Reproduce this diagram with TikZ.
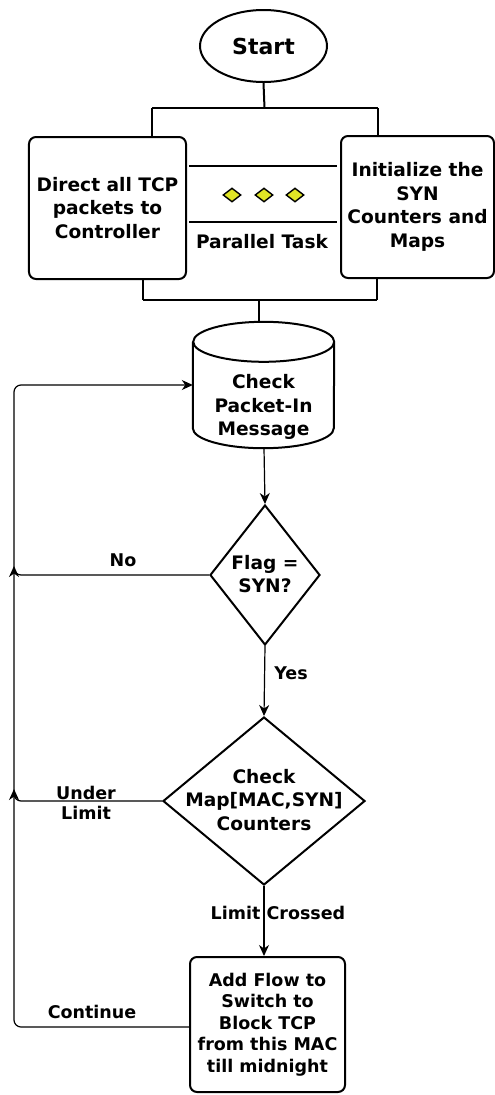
\documentclass[tikz,border=0pt]{standalone}
\usepackage{fontspec}
\setmainfont{DejaVu Sans}
\usetikzlibrary{shapes.geometric,arrows.meta}
\definecolor{ydot}{rgb}{0.88,0.9,0.15}
\begin{document}
\begin{tikzpicture}[x=1bp,y=-1bp,
  font=\bfseries\fontsize{17.5bp}{23.5bp}\selectfont,
  big/.style={font=\bfseries\fontsize{18.6bp}{23.5bp}\selectfont},
  box/.style={draw,line width=2bp,rounded corners=7bp,align=center,inner sep=0pt},
  dec/.style={draw,diamond,line width=2bp,align=center,inner sep=0pt,aspect=1},
  txt/.style={align=center,inner sep=0pt},
  bar/.style={line width=2bp},
  arr/.style={line width=1.2bp,-{Stealth[length=11bp,width=10bp,inset=3.5bp]}},
  ydia/.style={draw,diamond,fill=ydot,line width=1.4bp,minimum width=18bp,minimum height=14bp,inner sep=0pt}
]
\useasboundingbox (0,0) rectangle (495,1095);

% start
\node[draw,ellipse,line width=2bp,minimum width=127bp,minimum height=72bp,inner sep=0pt,font=\bfseries\fontsize{22bp}{26bp}\selectfont] (start) at (263.5,46) {Start};

% parallel boxes
\node[box,big,minimum width=157bp,minimum height=142bp] (left) at (107.5,208) {Direct all TCP\\packets to\\Controller};
\node[box,big,minimum width=153bp,minimum height=142bp] (right) at (417.5,207) {Initialize the\\SYN\\Counters and\\Maps};

\coordinate (tm) at (264.5,108);
\coordinate (tbl) at (152,108);
\coordinate (tbr) at (378,108);
\draw[bar] (start.south) -- (tm);
\draw[bar] (tbl) -- (tbr);
\draw[bar] (tbl) -- (tbl |- left.north);
\draw[bar] (tbr) -- (tbr |- right.north);

% parallel task marker
\coordinate (m1) at (189,166);
\coordinate (m2) at (337,166);
\coordinate (m3) at (189,222);
\coordinate (m4) at (337,222);
\draw[bar] (m1) -- (m2);
\draw[bar] (m3) -- (m4);
\node[ydia] (d1) at (232,195) {};
\node[ydia] (d2) at (264,195) {};
\node[ydia] (d3) at (295,195) {};
\node[txt,big] (pt) at (262,242) {Parallel Task};

% join bar
\coordinate (bbl) at (143,300);
\coordinate (bbr) at (377,300);
\coordinate (bm) at (259,300);
\draw[bar] (bbl) -- (bbr);
\draw[bar] (bbl |- left.south) -- (bbl);
\draw[bar] (bbr |- right.south) -- (bbr);

% cylinder
\node[minimum width=141bp,minimum height=126bp,inner sep=0pt] (chk) at (263.5,385) {};
\draw[line width=2bp] ([yshift=-20bp]chk.north west) -- ([yshift=20bp]chk.south west)
  arc[start angle=180,end angle=360,x radius=70.5bp,y radius=20bp]
  -- ([yshift=-20bp]chk.north east)
  arc[start angle=0,end angle=180,x radius=70.5bp,y radius=20bp]
  arc[start angle=180,end angle=360,x radius=70.5bp,y radius=20bp];
\node[txt,big] (chkt) at (263.5,407) {Check\\Packet-In\\Message};
\draw[bar] (bm) -- (bm |- chk.north);

% flag decision
\node[dec,minimum width=110bp,minimum height=140bp] (flag) at (265,575) {};
\node[txt,big] (flagt) at (265,574) {Flag =\\SYN?};
\draw[arr] (chk.south -| 264,0) -- (flag.north);

% counter decision
\node[dec,minimum width=202bp,minimum height=168bp] (cnt) at (264,801) {};
\node[txt,big] (cntt) at (264,800) {Check\\Map[MAC,SYN]\\Counters};
\draw[arr] (flag.south) -- (cnt.north);
\node[txt] (yes) at (291,673) {Yes};

% block box
\node[box,minimum width=155bp,minimum height=135bp,font=\bfseries\fontsize{17.5bp}{21.4bp}\selectfont] (blk) at (267.5,1024.5) {Add Flow to\\Switch to\\Block TCP\\from this MAC\\till midnight};
\draw[arr] (cnt.south) -- (cnt.south |- blk.north);
\node[txt] (lc) at (278,913) {Limit Crossed};

% loops
\coordinate (lx) at (14,385);
\coordinate (noend) at (14,566);
\coordinate (ulend) at (14,789);
\draw[arr,rounded corners=7bp] (blk.west |- 0,1027) -| (lx) -- (chk.west);
\draw[arr,rounded corners=7bp] (flag.west) -| (noend);
\draw[arr,rounded corners=7bp] (cnt.west) -| (ulend);
\node[txt] (no) at (123,560) {No};
\node[txt,font=\bfseries\fontsize{17.5bp}{20bp}\selectfont] (ul) at (86,803) {Under\\Limit};
\node[txt] (cont) at (92,1012) {Continue};
\end{tikzpicture}
\end{document}
